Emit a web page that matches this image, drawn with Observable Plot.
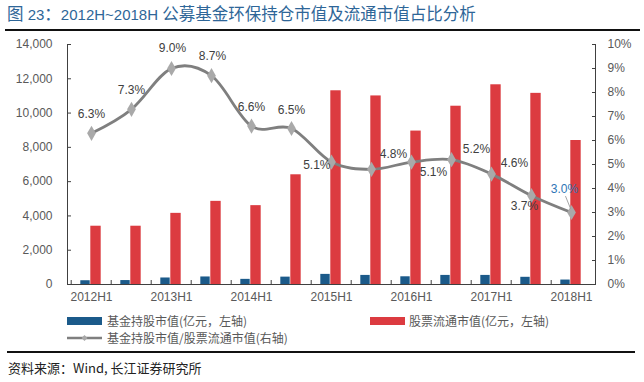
<!DOCTYPE html>
<html>
<head>
<meta charset="utf-8">
<script src="https://cdn.jsdelivr.net/npm/d3@7"></script>
<script src="https://cdn.jsdelivr.net/npm/@observablehq/plot@0.6"></script>
<style>
  html, body { margin: 0; padding: 0; background: #fff; }
  #page { position: relative; width: 644px; height: 382px; overflow: hidden; background: #fff;
          font-family: "Liberation Sans", Arial, "Noto Sans CJK SC", sans-serif; }
  .abs { position: absolute; }
  #title { left: 7px; top: 3px; color: #2e6698; font-size: 15px; line-height: 20px; white-space: nowrap; }
  #title .cjk { font-family: "Noto Sans CJK SC", sans-serif; font-size: 16.5px; }
  .rule { background: #111; height: 1.6px; }
  .leg { font-family: "Noto Sans CJK SC", sans-serif; font-size: 12px; line-height: 16px; color: #595959; white-space: nowrap; }
  #source { left: 8px; top: 359px; font-size: 13px; line-height: 18px; color: #222; white-space: nowrap; font-family: "Noto Sans CJK SC", sans-serif; }
  #chart { left: 0; top: 30px; }
</style>
</head>
<body>
<div id="page">
  <div id="title" class="abs"><span class="cjk">图</span> 23<span class="cjk">：</span>2012H~2018H <span class="cjk">公募基金环保持仓市值及流通市值占比分析</span></div>
  <div class="abs rule" style="left:5px; top:29px; width:635px;"></div>
  <div id="chart" class="abs"></div>
  <div id="legend"></div>
  <div class="abs rule" style="left:7px; top:351px; width:628px;"></div>
  <div id="source" class="abs">资料来源：Wind, 长江证券研究所</div>
</div>
<script>
// ---- data ----
const periods = ["2012H1","2012H2","2013H1","2013H2","2014H1","2014H2","2015H1","2015H2","2016H1","2016H2","2017H1","2017H2","2018H1"];
const fundHolding = [220, 230, 380, 440, 300, 430, 590, 530, 450, 530, 530, 420, 260];      // 亿元
const floatCap = [3400, 3400, 4150, 4850, 4600, 6400, 11300, 11000, 8950, 10400, 11650, 11150, 8400]; // 亿元
const ratioPct = [6.3, 7.3, 9.0, 8.7, 6.6, 6.5, 5.1, 4.8, 5.1, 5.2, 4.6, 3.7, 3.0];       // %
const labelPeriods = ["2012H1","2013H1","2014H1","2015H1","2016H1","2017H1","2018H1"];
const leftTicks = [0, 2000, 4000, 6000, 8000, 10000, 12000, 14000];
const rightTicks = [0, 1, 2, 3, 4, 5, 6, 7, 8, 9, 10];
const seriesNames = ["基金持股市值(亿元，左轴)", "股票流通市值(亿元，左轴)", "基金持股市值/股票流通市值(右轴)"];

// ---- styling config ----
const blue = "#1b5a8a", red = "#dc3b40", lineGray = "#7f7f7f", markerGray = "#a9a9a9";
const axisColor = "#404040", tickText = "#595959";
const leftMax = 14000, rightMax = 10, k = leftMax / rightMax;
const W = 644, H = 280, mL = 67, mR = 49, mT = 14, mB = 26;
const bw = (W - mL - mR) / periods.length;
// label placement [dx, dy, anchor] per point
const labelPlace = [
  [0,-19,"middle"],[0,-19,"middle"],[1,-20,"middle"],[1,-20,"middle"],[0,-19,"middle"],[0,-18,"middle"],
  [-1,3,"end"],[22,-15,"middle"],[22,10,"middle"],[25,-11,"middle"],[23,-11,"middle"],[-7,10,"middle"],[-7,-23,"middle"]
];
const labelColors = periods.map((p, i) => i === periods.length - 1 ? "#2e75b6" : "#404040");

const data = periods.map((p, i) => ({period: p, fund: fundHolding[i], cap: floatCap[i], ratio: ratioPct[i]}));

const labelMarks = data.map((d, i) => Plot.text([d], {
  x: "period", y: v => v.ratio * k, text: v => v.ratio.toFixed(1) + "%",
  dx: labelPlace[i][0], dy: labelPlace[i][1], textAnchor: labelPlace[i][2],
  fill: labelColors[i], fontSize: 12
}));

const lineShape = {draw(context, l) { context.moveTo(0, 0); context.lineTo(0, -l); }};

const chart = Plot.plot({
  width: W, height: H,
  marginLeft: mL, marginRight: mR, marginTop: mT, marginBottom: mB,
  style: {fontFamily: "'Liberation Sans', Arial, sans-serif", fontSize: "12px", color: tickText, background: "transparent"},
  x: {type: "band", domain: periods, padding: 0, axis: null},
  y: {domain: [0, leftMax], axis: null},
  marks: [
    Plot.barY(data, {x: "period", y: "fund", fill: blue, insetLeft: bw / 2 - 11, insetRight: bw / 2 + 1}),
    Plot.barY(data, {x: "period", y: "cap", fill: red, insetLeft: bw / 2 - 1, insetRight: bw / 2 - 10}),
    Plot.line(data, {x: "period", y: d => d.ratio * k, stroke: lineGray, strokeWidth: 2.8, curve: "cardinal"}),
    Plot.dot(data, {x: "period", y: d => d.ratio * k, symbol: "diamond", r: 4.6, fill: markerGray, stroke: "none"}),
    Plot.vector([data[data.length - 1]], {x: "period", y: d => d.ratio * k, length: 13, rotate: -22, anchor: "start",
      shape: lineShape, stroke: "#9a9a9a", strokeWidth: 0.8, dx: -1, dy: -4}),
    ...labelMarks,
    // left axis
    Plot.axisY({anchor: "left", ticks: leftTicks, tickSize: 4, dx: 4, tickPadding: 15, tickFormat: d3.format(","),
      label: null, stroke: axisColor, fill: tickText, fontSize: 12}),
    // right axis
    Plot.axisY({anchor: "right", ticks: rightTicks.map(t => t * k), tickSize: 4, dx: -4, tickPadding: 12,
      tickFormat: d => Math.round(d / k) + "%", label: null, stroke: axisColor, fill: tickText, fontSize: 12}),
    // x ticks at band boundaries
    Plot.axisX({ticks: periods, tickSize: 4, dy: -4, dx: -bw / 2, tickFormat: () => "", label: null, stroke: axisColor}),
    Plot.axisX({ticks: labelPeriods, tickSize: 0, tickPadding: 8, label: null, fill: tickText, fontSize: 12}),
    Plot.frame({anchor: "left", stroke: axisColor}),
    Plot.frame({anchor: "right", stroke: axisColor}),
    Plot.ruleY([0], {stroke: axisColor})
  ]
});
document.getElementById("chart").appendChild(chart);

// legend
const legend = document.getElementById("legend");
legend.innerHTML = `
  <div class="abs" style="left:67px; top:317px; width:35px; height:8px; background:${blue}"></div>
  <div class="abs leg" style="left:107px; top:313px;">${seriesNames[0]}</div>
  <div class="abs" style="left:370px; top:317px; width:35px; height:8px; background:${red}"></div>
  <div class="abs leg" style="left:409px; top:313px;">${seriesNames[1]}</div>
  <svg class="abs" style="left:67px; top:333px;" width="36" height="10">
    <line x1="0" y1="5" x2="35" y2="5" stroke="${lineGray}" stroke-width="2.5"/>
    <path d="M17.5,2 L20.5,5 L17.5,8 L14.5,5 Z" fill="${markerGray}"/>
  </svg>
  <div class="abs leg" style="left:107px; top:330px;">${seriesNames[2]}</div>`;
</script>
</body>
</html>
